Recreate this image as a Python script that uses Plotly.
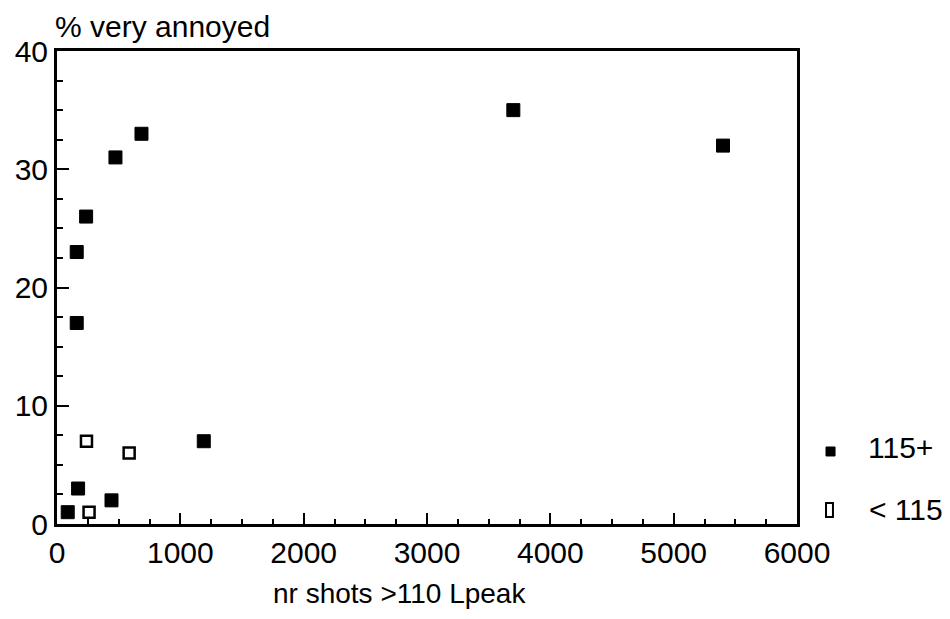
import plotly.graph_objects as go

# Data
x_high = [87, 160, 160, 171, 236, 442, 474, 685, 1190, 3700, 5400]
y_high = [1, 17, 23, 3, 26, 2, 31, 33, 7, 35, 32]

x_low = [239, 260, 585]
y_low = [7, 1, 6]

series_names = ["115+", "< 115"]
x_ticks = [0, 1000, 2000, 3000, 4000, 5000, 6000]
y_ticks = [0, 10, 20, 30, 40]

FONT = "Liberation Sans, Arial, Helvetica, sans-serif"
FS = 30

fig = go.Figure()
fig.add_trace(go.Scatter(
    x=x_high, y=y_high, mode="markers", name=series_names[0],
    marker=dict(symbol="square", size=13, color="black",
                line=dict(color="black", width=1)),
))
fig.add_trace(go.Scatter(
    x=x_low, y=y_low, mode="markers", name=series_names[1],
    marker=dict(symbol="square-open", size=11, color="black",
                line=dict(color="black", width=2.5)),
))

# Legend drawn manually to the right of the plot (keys + labels)
legend_shapes = [
    dict(type="rect", xref="paper", yref="paper",
         x0=1.0392, x1=1.0514, y0=0.1438, y1=0.1628,
         fillcolor="black", line=dict(color="black", width=1)),
    dict(type="rect", xref="paper", yref="paper",
         x0=1.0392, x1=1.0486, y0=0.0148, y1=0.0444,
         fillcolor="rgba(0,0,0,0)", line=dict(color="black", width=2)),
]
legend_labels = [
    dict(text=series_names[0], xref="paper", yref="paper",
         x=1.0932, y=0.1607, xanchor="left", yanchor="middle",
         showarrow=False, font=dict(size=FS)),
    dict(text=series_names[1], xref="paper", yref="paper",
         x=1.0946, y=0.0296, xanchor="left", yanchor="middle",
         showarrow=False, font=dict(size=FS)),
]

fig.update_layout(
    width=950, height=619,
    margin=dict(l=57, r=153, t=51, b=95),
    paper_bgcolor="white", plot_bgcolor="white",
    font=dict(family=FONT, size=FS, color="black"),
    showlegend=False,
    xaxis=dict(
        range=[0, 6000], tickvals=x_ticks, ticktext=[str(v) for v in x_ticks],
        ticks="inside", ticklen=11, tickwidth=2, tickcolor="black",
        showline=True, linecolor="black", linewidth=3, mirror=True,
        showgrid=False, zeroline=False,
        minor=dict(dtick=250, ticks="inside", ticklen=5, tickwidth=2,
                   tickcolor="black", showgrid=False),
        tickfont=dict(size=FS),
    ),
    yaxis=dict(
        range=[0, 40], tickvals=y_ticks, ticktext=[str(v) for v in y_ticks],
        ticks="inside", ticklen=12, tickwidth=2, tickcolor="black",
        showline=True, linecolor="black", linewidth=3, mirror=True,
        showgrid=False, zeroline=False,
        minor=dict(dtick=2.5, ticks="inside", ticklen=6, tickwidth=2,
                   tickcolor="black", showgrid=False),
        tickfont=dict(size=FS),
    ),
    shapes=legend_shapes,
    annotations=[
        dict(text="% very annoyed", xref="paper", yref="paper",
             x=0, y=1, xanchor="left", yanchor="bottom", yshift=6, xshift=-4,
             showarrow=False, font=dict(size=FS)),
        dict(text="nr shots >110 Lpeak", xref="paper", yref="paper",
             x=0.4635, y=0, xanchor="center", yanchor="middle", yshift=-69,
             showarrow=False, font=dict(size=28)),
    ] + legend_labels,
)

fig.write_html("out.html", config={"displayModeBar": False},
               post_script="document.body.style.margin='0px';")
